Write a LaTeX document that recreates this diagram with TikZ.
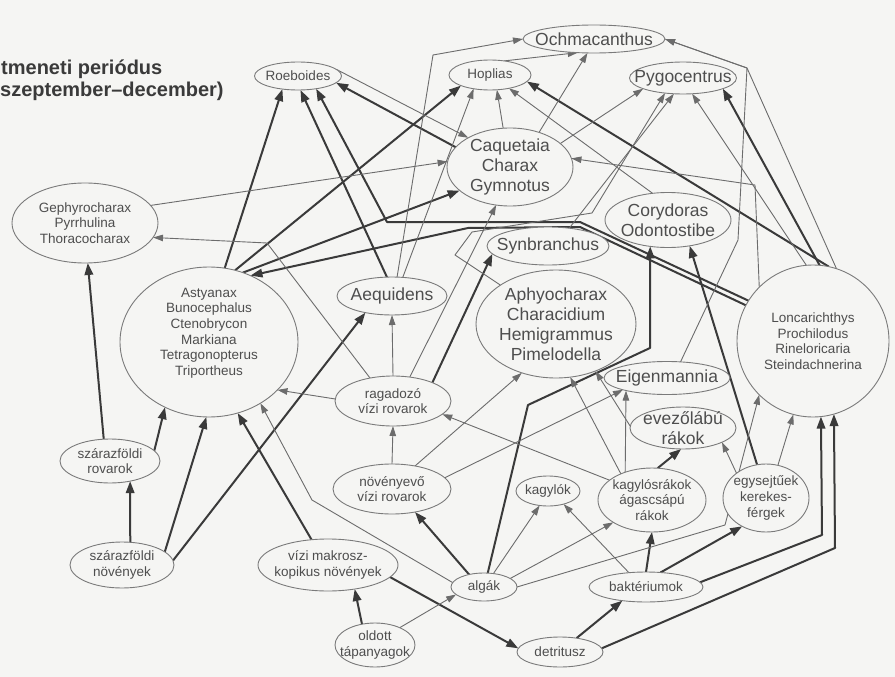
\documentclass[tikz,border=0pt]{standalone}
\usepackage{fontspec}
\setmainfont{Liberation Sans}
\usetikzlibrary{shapes.geometric,arrows.meta}
\definecolor{bgc}{HTML}{F5F5F3}
\definecolor{thk}{HTML}{3A3A3A}
\definecolor{thn}{HTML}{6C6C6C}
\definecolor{bord}{HTML}{7A7A7A}
\definecolor{txt}{HTML}{4E4E4E}
\pgfdeclarelayer{bglayer}
\pgfdeclarelayer{edgelayer}
\pgfsetlayers{bglayer,edgelayer,main}
\newcommand\fwn[7]{%
  \node[fw,minimum width=#4pt,minimum height=#5pt] (#1) at (#2,#3) {};
  \node[#6] (#1t) at (#1) {#7};}
\begin{document}
\begin{tikzpicture}[x=1pt,y=-1pt,
  fw/.style={ellipse, draw=bord, line width=0.9pt, fill=bgc, inner sep=0pt, outer sep=0pt},
  lab/.style={text=txt, align=center, inner sep=0pt, font=\fontsize{13.5}{15.6}\selectfont},
  big/.style={text=txt, align=center, inner sep=0pt, font=\fontsize{17.5}{20}\selectfont},
  ttl/.style={text=thk, inner sep=0pt, font=\fontsize{20}{23}\selectfont\bfseries, anchor=base west},
  tk/.style={draw=thk, line width=2pt, line join=round, -{Triangle[length=12pt,width=8.5pt]}},
  tn/.style={draw=thn, line width=0.9pt, line join=round, -{Triangle[length=10pt,width=6.5pt]}}]
\begin{pgfonlayer}{bglayer}
\fill[bgc] (0,0) rectangle (895,677);
\end{pgfonlayer}
\useasboundingbox (0,0) rectangle (895,677);

\node[ttl] (title1) at (1,75) {tmeneti periódus};
\node[ttl] (title2) at (0,97) {szeptember–december)};

\fwn{och}{594}{39}{142}{28}{big}{Ochmacanthus}
\fwn{roe}{298}{76}{87}{28}{lab}{Roeboides}
\fwn{hop}{490}{75}{82}{30}{lab}{Hoplias}
\fwn{pyg}{683}{78}{107}{32}{big}{Pygocentrus}
\fwn{caq}{510}{167}{126}{78}{big}{Caquetaia\\Charax\\Gymnotus}
\fwn{gep}{85}{223}{146}{80}{lab}{Gephyrocharax\\Pyrrhulina\\Thoracocharax}
\fwn{cor}{668}{220}{126}{55}{big}{Corydoras\\Odontostibe}
\fwn{syn}{548}{246}{122}{38}{big}{Synbranchus}
\fwn{aeq}{392}{296}{110}{38}{big}{Aequidens}
\fwn{ast}{209}{342}{178}{150}{lab,yshift=9pt}{Astyanax\\Bunocephalus\\Ctenobrycon\\Markiana\\Tetragonopterus\\Triportheus}
\fwn{aph}{556}{324}{160}{108}{big}{Aphyocharax\\Characidium\\Hemigrammus\\Pimelodella}
\fwn{lon}{813}{341}{152}{152}{lab}{Loncarichthys\\Prochilodus\\Rineloricaria\\Steindachnerina}
\fwn{eig}{667}{378}{126}{33}{big}{Eigenmannia}
\fwn{eve}{683}{428}{106}{42}{big}{evezőlábú\\rákok}
\fwn{rag}{393}{401}{116}{50}{lab}{ragadozó\\vízi rovarok}
\fwn{szr}{110}{461}{100}{44}{lab}{szárazföldi\\rovarok}
\fwn{nov}{392}{489}{118}{50}{lab}{növényevő\\vízi rovarok}
\fwn{kag}{548}{491}{64}{30}{lab}{kagylók}
\fwn{kgr}{652}{500}{108}{64}{lab}{kagylósrákok\\ágascsápú\\rákok}
\fwn{egy}{766}{498}{86}{68}{lab}{egysejtűek\\kerekes-\\férgek}
\fwn{szn}{122}{565}{104}{46}{lab}{szárazföldi\\növények}
\fwn{viz}{328}{565}{140}{52}{lab}{vízi makrosz-\\kopikus növények}
\fwn{alg}{484}{587}{66}{28}{lab}{algák}
\fwn{bak}{646}{587}{114}{30}{lab}{baktériumok}
\fwn{old}{375}{645}{80}{44}{lab}{oldott\\tápanyagok}
\fwn{det}{560}{652}{86}{30}{lab}{detritusz}

\coordinate (p1) at (835,548);
\coordinate (p2) at (822,535);
\coordinate (p3) at (725,525);
\coordinate (p4) at (312,500);
\coordinate (p5) at (528,405);
\coordinate (p6) at (650,348);
\coordinate (p7) at (267,243);
\coordinate (p8) at (433,55);
\coordinate (p9) at (580,222);
\coordinate (p10) at (387,222);
\coordinate (p11) at (580,227);
\coordinate (p12) at (468,228);
\coordinate (p13) at (747,68);
\coordinate (p14) at (738,240);
\coordinate (p15) at (755,185);
\coordinate (p16) at (455,255);
\coordinate (p17) at (472,232);
\coordinate (p18) at (592,213);

\begin{pgfonlayer}{edgelayer}
% thick connectors
\draw[tk] (szn.70) -- (szr.-45);
\draw[tk] (szr.106) -- (gep.-86);
\draw[tk] (szr.13) -- (ast.-124);
\draw[tk] (szn.17) -- (ast.-92);
\draw[tk] (szn.5) -- (aeq.-148);
\draw[tk] (viz.123) -- (ast.-68);
\draw[tk] (old.122) -- (viz.-42);
\draw[tk] (viz.-11) -- (det.175);
\draw[tk] (det.40) -- (bak.-150);
\draw[tk] (det.5) -- (p1) -- (lon.-74);
\draw[tk] (bak.5) -- (p2) -- (lon.-84);
\draw[tk] (bak.45) -- (egy.-130);
\draw[tk] (bak.90) -- (kgr.-90);
\draw[tk] (alg.140) -- (nov.-45);
\draw[tk] (alg.75) -- (p5) -- (p6) -- (cor.-124);
\draw[tk] (rag.25) -- (syn.-172);
\draw[tk] (ast.78) -- (roe.-140);
\draw[tk] (ast.70) -- (hop.-160);
\draw[tk] (ast.64) -- (caq.-155);
\draw[tk] (aeq.105) -- (roe.-80);
\draw[tk] (caq.160) -- (roe.-10);
\draw[tk] (lon.148) -- (p9) -- (p10) -- (roe.-35);
\draw[tk] (lon.152) -- (p11) -- (p12) -- (ast.58);
\draw[tk] (lon.78) -- (hop.-10);
\draw[tk] (lon.85) -- (pyg.-15);
\draw[tk] (kgr.80) -- (eve.-95);
\draw[tk] (egy.105) -- (cor.-50);
% thin connectors
\draw[tn] (old.35) -- (alg.-165);
\draw[tn] (bak.140) -- (kag.-40);
\draw[tn] (alg.55) -- (kag.-120);
\draw[tn] (alg.18) -- (kgr.-150);
\draw[tn] (alg.0) -- (p3) -- (lon.-135);
\draw[tn] (alg.172) -- (p4) -- (ast.-50);
\draw[tn] (nov.90) -- (rag.-90);
\draw[tn] (nov.45) -- (aph.-125);
\draw[tn] (nov.12) -- (eig.-165);
\draw[tn] (rag.178) -- (ast.-35);
\draw[tn] (rag.90) -- (aeq.-90);
\draw[tn] (rag.135) -- (p7) -- (gep.-12);
\draw[tn] (rag.55) -- (caq.-110);
\draw[tn] (kgr.155) -- (rag.-15);
\draw[tn] (kgr.134) -- (eig.-163);
\draw[tn] (kgr.140) -- (aph.-75);
\draw[tn] (eve.178) -- (aph.-50);
\draw[tn] (egy.140) -- (eve.-20);
\draw[tn] (egy.70) -- (lon.-105);
\draw[tn] (aeq.60) -- (hop.-140);
\draw[tn] (aeq.75) -- (p8) -- (och.180);
\draw[tn] (hop.45) -- (och.-140);
\draw[tn] (caq.100) -- (hop.-65);
\draw[tn] (caq.50) -- (och.-115);
\draw[tn] (caq.25) -- (pyg.-165);
\draw[tn] (roe.10) -- (caq.145);
\draw[tn] (gep.15) -- (caq.175);
\draw[tn] (lon.72) -- (p13) -- (och.0);
\draw[tn] (eig.50) -- (p14) -- (p13) -- (och.0);
\draw[tn] (lon.135) -- (p15) -- (caq.8);
\draw[tn] (cor.120) -- (hop.-35);
\draw[tn] (lon.95) -- (pyg.-60);
\draw[tn] (syn.40) -- (pyg.-120);
\draw[tn] (aph.145) -- (p16) -- (p17) -- (p18) -- (pyg.-140);
\end{pgfonlayer}
\end{tikzpicture}
\end{document}
